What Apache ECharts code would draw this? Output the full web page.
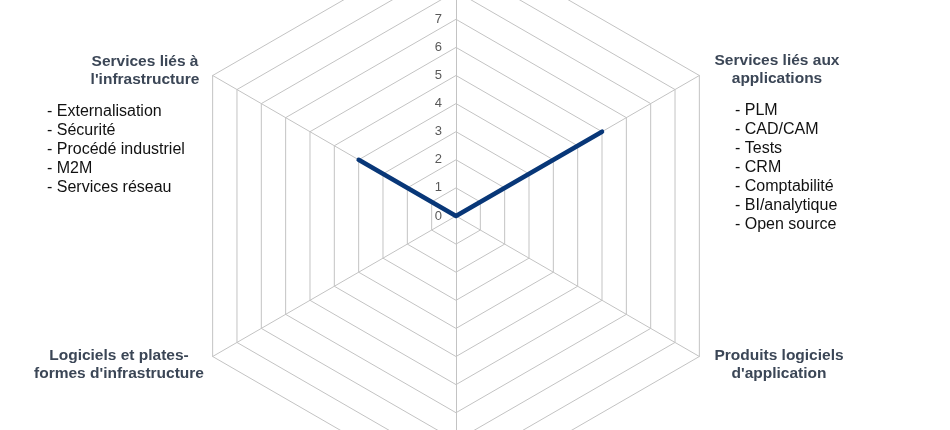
<!DOCTYPE html>
<html><head><meta charset="utf-8">
<script src="https://cdn.jsdelivr.net/npm/echarts@6/dist/echarts.min.js"></script>
<style>html,body{margin:0;padding:0;background:#fff}#c{width:950px;height:430px}</style>
</head><body><div id="c"></div>
<script>
// Axes in ECharts radar order (counter-clockwise from top): top, upper-left, lower-left, bottom, lower-right, upper-right
const categories = ['Haut', 'Services liés à l\'infrastructure', 'Logiciels et plates-formes d\'infrastructure', 'Bas', 'Produits logiciels d\'application', 'Services liés aux applications'];
const values = [0, 4, 0, 0, 0, 6];
const axisMax = 10;
const tickLabels = ['0','1','2','3','4','5','6','7','8','9','10'];

const headerUL = ['Services liés à', 'l\'infrastructure'];
const bulletsUL = ['- Externalisation', '- Sécurité', '- Procédé industriel', '- M2M', '- Services réseau'];
const headerUR = ['Services liés aux', 'applications'];
const bulletsUR = ['- PLM', '- CAD/CAM', '- Tests', '- CRM', '- Comptabilité', '- BI/analytique', '- Open source'];
const headerLL = ['Logiciels et plates-', 'formes d\'infrastructure'];
const headerLR = ['Produits logiciels', 'd\'application'];

const chart = echarts.init(document.getElementById('c'), null, {renderer: 'canvas'});
const gridColor = '#c3c3c3';
const headStyle = {font: 'bold 15.5px "Liberation Sans", Arial, sans-serif', fill: '#3b4656', textAlign: 'center', lineHeight: 18};
const bulletStyle = {font: '16px "Liberation Sans", Arial, sans-serif', fill: '#111', textAlign: 'left', lineHeight: 19};

chart.setOption({
  animation: false,
  radar: {
    center: [456, 216],
    radius: 281,
    startAngle: 90,
    shape: 'polygon',
    splitNumber: 10,
    axisName: {show: false},
    splitArea: {show: false},
    splitLine: {lineStyle: {color: gridColor, width: 1}},
    axisLine: {lineStyle: {color: gridColor, width: 1}},
    axisTick: {show: false},
    axisLabel: {show: false},
    indicator: categories.map((c, i) => ({
      name: c, min: 0, max: axisMax,
      axisLabel: i === 0 ? {show: true, color: '#595959', fontSize: 13, fontFamily: 'Liberation Sans, Arial', margin: 14,
        padding: [5, 0, 0, 0], formatter: v => tickLabels[v] || ''} : {show: false}
    }))
  },
  series: [{
    type: 'radar',
    symbol: 'none',
    lineStyle: {color: '#083778', width: 4.5},
    data: [{value: values, name: 'Série'}]
  }],
  graphic: [
    {type: 'text', x: 145, y: 53, style: Object.assign({text: headerUL.join('\n')}, headStyle)},
    {type: 'text', x: 47, y: 102, style: Object.assign({text: bulletsUL.join('\n')}, bulletStyle)},
    {type: 'text', x: 777, y: 52, style: Object.assign({text: headerUR.join('\n')}, headStyle)},
    {type: 'text', x: 735, y: 101, style: Object.assign({text: bulletsUR.join('\n')}, bulletStyle)},
    {type: 'text', x: 119, y: 347, style: Object.assign({text: headerLL.join('\n')}, headStyle)},
    {type: 'text', x: 779, y: 347, style: Object.assign({text: headerLR.join('\n')}, headStyle)}
  ]
});
</script></body></html>
